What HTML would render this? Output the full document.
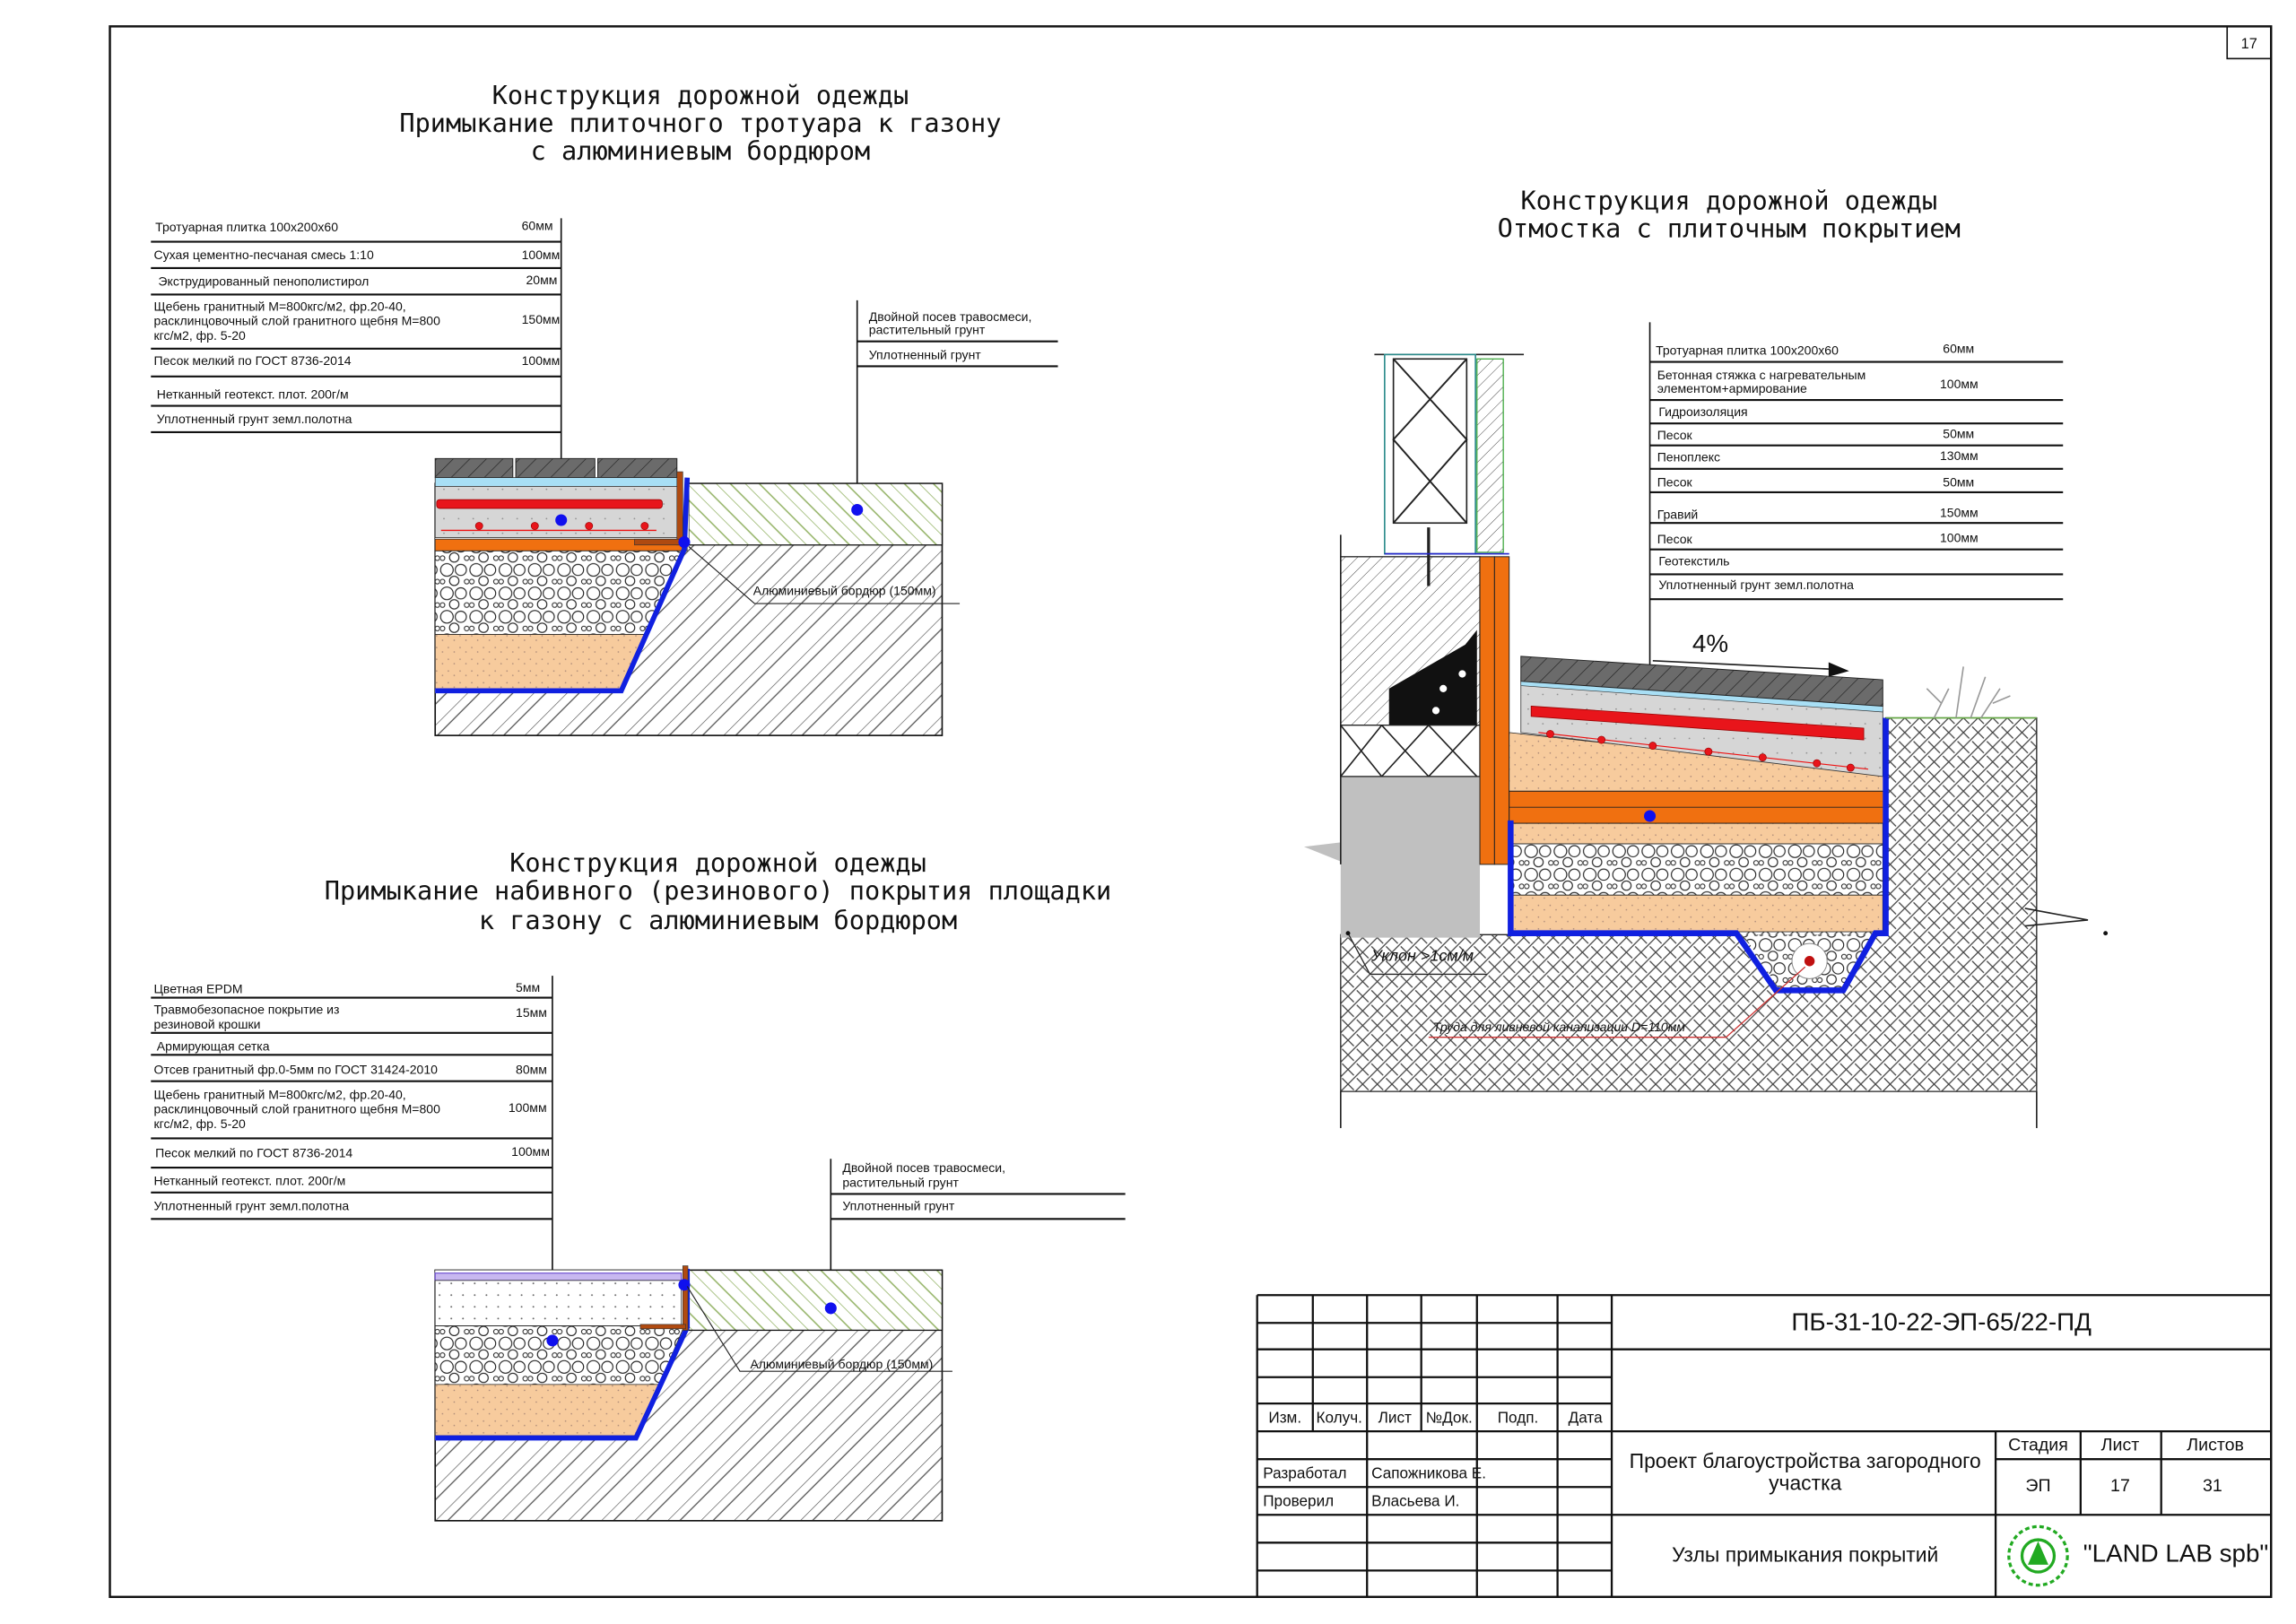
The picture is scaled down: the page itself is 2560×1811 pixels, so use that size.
<!DOCTYPE html>
<html><head><meta charset="utf-8"><style>
html,body{margin:0;padding:0;background:#fff}
svg{display:block}
text{font-family:"Liberation Sans Narrow","Liberation Sans","DejaVu Sans",sans-serif;fill:#111}
.t{font-size:17.5px;font-family:"DejaVu Sans Mono","Liberation Mono",monospace}
.s{font-size:8.6px}
.m{font-size:11px}
</style></head><body>
<svg width="2560" height="1811" viewBox="0 0 1567 1108.5" preserveAspectRatio="none" xmlns="http://www.w3.org/2000/svg">
<defs>
<pattern id="soil" width="16" height="16" patternUnits="userSpaceOnUse" patternTransform="rotate(45)">
<line x1="0" y1="0" x2="0" y2="16" stroke="#555" stroke-width="0.8"/><line x1="6" y1="0" x2="6" y2="16" stroke="#555" stroke-width="0.8"/></pattern>
<pattern id="grass" width="14" height="14" patternUnits="userSpaceOnUse" patternTransform="rotate(-45)">
<line x1="0" y1="0" x2="0" y2="14" stroke="#8fb060" stroke-width="0.9"/><line x1="7" y1="0" x2="7" y2="14" stroke="#8fb060" stroke-width="0.9"/></pattern>
<pattern id="cross" width="10" height="10" patternUnits="userSpaceOnUse">
<path d="M0 10L10 0M0 0L4 4M6 6L10 10" stroke="#444" stroke-width="0.8"/></pattern>
<pattern id="gravel" width="20" height="16" patternUnits="userSpaceOnUse">
<rect width="20" height="16" fill="#fff"/><circle cx="5" cy="5" r="4.3" fill="none" stroke="#222" stroke-width="0.7"/><circle cx="14.5" cy="5" r="3.8" fill="none" stroke="#222" stroke-width="0.7"/><circle cx="10" cy="12.5" r="3.2" fill="none" stroke="#222" stroke-width="0.7"/><circle cx="18.5" cy="13" r="1.6" fill="none" stroke="#222" stroke-width="0.6"/><circle cx="2" cy="13" r="1.6" fill="none" stroke="#222" stroke-width="0.6"/></pattern>
<pattern id="sand" width="8" height="8" patternUnits="userSpaceOnUse">
<rect width="8" height="8" fill="#f7cb9d"/><circle cx="2" cy="2" r="0.5" fill="#a87"/><circle cx="6" cy="5" r="0.5" fill="#a87"/></pattern>
<pattern id="conc" width="10" height="10" patternUnits="userSpaceOnUse">
<rect width="10" height="10" fill="#d6d6d6"/><circle cx="3" cy="4" r="0.5" fill="#888"/></pattern>
<pattern id="tile" width="8" height="8" patternUnits="userSpaceOnUse" patternTransform="rotate(45)">
<rect width="8" height="8" fill="#6b6b6b"/><line x1="0" y1="0" x2="0" y2="8" stroke="#222" stroke-width="0.8"/></pattern>
<pattern id="dots" width="8" height="8" patternUnits="userSpaceOnUse">
<rect width="8" height="8" fill="#fff"/><circle cx="4" cy="4" r="0.6" fill="#666"/></pattern>
<pattern id="hatchf" width="6" height="6" patternUnits="userSpaceOnUse" patternTransform="rotate(45)">
<rect width="6" height="6" fill="#fff"/><line x1="0" y1="0" x2="0" y2="6" stroke="#444" stroke-width="0.6"/></pattern>
</defs>
<rect x="0" y="0" width="1567" height="1109" fill="#fff"/>
<rect x="75" y="18" width="1475" height="1072" fill="none" stroke="#111" stroke-width="1.5"/>
<rect x="1520" y="18" width="30" height="22" fill="none" stroke="#111" stroke-width="1"/>
<text x="1535" y="33" text-anchor="middle" font-size="10">17</text>

<!-- TOP LEFT -->
<text x="478" y="71" class="t" text-anchor="middle">Конструкция дорожной одежды</text>
<text x="478" y="90" class="t" text-anchor="middle">Примыкание плиточного тротуара к газону</text>
<text x="478" y="109" class="t" text-anchor="middle">с алюминиевым бордюром</text>
<g stroke="#111" stroke-width="1.3">
<line x1="103" y1="165" x2="383" y2="165"/><line x1="103" y1="183" x2="383" y2="183"/><line x1="103" y1="201" x2="383" y2="201"/><line x1="103" y1="238" x2="383" y2="238"/><line x1="103" y1="257" x2="383" y2="257"/><line x1="103" y1="277" x2="383" y2="277"/><line x1="103" y1="295" x2="383" y2="295"/>
<line x1="383" y1="149" x2="383" y2="355" stroke-width="1"/>
<line x1="585" y1="205" x2="585" y2="348" stroke-width="1"/>
<line x1="585" y1="233" x2="722" y2="233"/><line x1="585" y1="250" x2="722" y2="250"/>
</g>
<g class="s">
<text x="106" y="158">Тротуарная плитка 100х200х60</text><text x="356" y="157">60мм</text>
<text x="105" y="177">Сухая цементно-песчаная смесь 1:10</text><text x="356" y="177">100мм</text>
<text x="108" y="195">Экструдированный пенополистирол</text><text x="359" y="194">20мм</text>
<text x="105" y="212">Щебень гранитный М=800кгс/м2, фр.20-40,</text>
<text x="105" y="222">расклинцовочный слой гранитного щебня М=800</text><text x="356" y="221">150мм</text>
<text x="105" y="232">кгс/м2, фр. 5-20</text>
<text x="105" y="249">Песок мелкий по ГОСТ 8736-2014</text><text x="356" y="249">100мм</text>
<text x="107" y="272">Нетканный геотекст. плот. 200г/м</text>
<text x="107" y="289">Уплотненный грунт земл.полотна</text>
<text x="593" y="219">Двойной посев травосмеси,</text>
<text x="593" y="228">растительный грунт</text>
<text x="593" y="245">Уплотненный грунт</text>
</g>
<rect x="297" y="330" width="346" height="172" fill="url(#soil)" stroke="#111" stroke-width="1"/>
<rect x="470" y="330" width="173" height="42" fill="#fff"/>
<rect x="470" y="330" width="173" height="42" fill="url(#grass)" stroke="#111" stroke-width="0.8"/>
<polygon points="297,313 470,313 470,372 425,473 297,473" fill="#fff"/>
<rect x="297" y="313" width="53" height="13" fill="url(#tile)" stroke="#222" stroke-width="0.6"/>
<rect x="352" y="313" width="54" height="13" fill="url(#tile)" stroke="#222" stroke-width="0.6"/>
<rect x="408" y="313" width="54" height="13" fill="url(#tile)" stroke="#222" stroke-width="0.6"/>
<rect x="297" y="326" width="168" height="6" fill="#a8dff5" stroke="#333" stroke-width="0.5"/>
<rect x="297" y="332" width="168" height="35" fill="url(#conc)" stroke="#333" stroke-width="0.5"/>
<rect x="298" y="341" width="154" height="6" rx="2" fill="#e8151b" stroke="#900" stroke-width="0.5"/>
<line x1="301" y1="362" x2="448" y2="362" stroke="#e11" stroke-width="0.8"/>
<g fill="#e8151b" stroke="#900" stroke-width="0.4"><circle cx="327" cy="359" r="2.5"/><circle cx="365" cy="359" r="2.5"/><circle cx="402" cy="359" r="2.5"/><circle cx="440" cy="359" r="2.5"/></g>
<rect x="297" y="368" width="172" height="8" fill="#f07010" stroke="#333" stroke-width="0.5"/>
<polygon points="297,376 467,376 442,433 297,433" fill="url(#gravel)" stroke="#222" stroke-width="0.5"/>
<polygon points="297,433 442,433 425,470 297,470" fill="url(#sand)" stroke="#222" stroke-width="0.5"/>
<polyline points="297,471.5 424,471.5 467,375 469,326" fill="none" stroke="#1020e0" stroke-width="3.5"/>
<rect x="462" y="322" width="4" height="50" fill="#b04a10" stroke="#333" stroke-width="0.4"/>
<rect x="433" y="368" width="33" height="4" fill="#b04a10" stroke="#333" stroke-width="0.4"/>
<circle cx="383" cy="355" r="4" fill="#1010ee"/><circle cx="467" cy="370" r="4" fill="#1010ee"/><circle cx="585" cy="348" r="4" fill="#1010ee"/>
<polyline points="470,373 515,412 655,412" fill="none" stroke="#222" stroke-width="0.7"/>
<text x="514" y="406" class="s">Алюминиевый бордюр (150мм)</text>

<!-- BOTTOM LEFT -->
<text x="490" y="595" class="t" text-anchor="middle">Конструкция дорожной одежды</text>
<text x="490" y="614" class="t" text-anchor="middle">Примыкание набивного (резинового) покрытия площадки</text>
<text x="490" y="634" class="t" text-anchor="middle">к газону с алюминиевым бордюром</text>
<g stroke="#111" stroke-width="1.3">
<line x1="103" y1="681" x2="377" y2="681"/><line x1="103" y1="705" x2="377" y2="705"/><line x1="103" y1="720" x2="377" y2="720"/><line x1="103" y1="738" x2="377" y2="738"/><line x1="103" y1="777" x2="377" y2="777"/><line x1="103" y1="797" x2="377" y2="797"/><line x1="103" y1="814" x2="377" y2="814"/><line x1="103" y1="832" x2="377" y2="832"/>
<line x1="377" y1="666" x2="377" y2="915" stroke-width="1"/>
<line x1="567" y1="791" x2="567" y2="893" stroke-width="1"/>
<line x1="567" y1="815" x2="768" y2="815"/><line x1="567" y1="832" x2="768" y2="832"/>
</g>
<g class="s">
<text x="105" y="678">Цветная EPDM</text><text x="352" y="677">5мм</text>
<text x="105" y="692">Травмобезопасное покрытие из</text><text x="352" y="694">15мм</text>
<text x="105" y="702">резиновой крошки</text>
<text x="107" y="717">Армирующая сетка</text>
<text x="105" y="733">Отсев гранитный фр.0-5мм по ГОСТ 31424-2010</text><text x="352" y="733">80мм</text>
<text x="105" y="750">Щебень гранитный М=800кгс/м2, фр.20-40,</text>
<text x="105" y="760">расклинцовочный слой гранитного щебня М=800</text><text x="347" y="759">100мм</text>
<text x="105" y="770">кгс/м2, фр. 5-20</text>
<text x="106" y="790">Песок мелкий по ГОСТ 8736-2014</text><text x="349" y="789">100мм</text>
<text x="105" y="809">Нетканный геотекст. плот. 200г/м</text>
<text x="105" y="826">Уплотненный грунт земл.полотна</text>
<text x="575" y="800">Двойной посев травосмеси,</text>
<text x="575" y="810">растительный грунт</text>
<text x="575" y="826">Уплотненный грунт</text>
</g>
<rect x="297" y="867" width="346" height="171" fill="url(#soil)" stroke="#111" stroke-width="1"/>
<rect x="470" y="867" width="173" height="41" fill="#fff"/>
<rect x="470" y="867" width="173" height="41" fill="url(#grass)" stroke="#111" stroke-width="0.8"/>
<polygon points="297,867 470,867 470,906 434,983 297,983" fill="#fff"/>
<rect x="297" y="869" width="168" height="5" fill="#c8b8f0" stroke="#6a4bd0" stroke-width="0.7"/>
<rect x="297" y="874" width="168" height="31" fill="url(#dots)" stroke="#333" stroke-width="0.5"/>
<polygon points="297,905 467,905 450,945 297,945" fill="url(#gravel)" stroke="#222" stroke-width="0.5"/>
<polygon points="297,945 450,945 434,980 297,980" fill="url(#sand)" stroke="#222" stroke-width="0.5"/>
<polyline points="297,981.5 434,981.5 469,906 469,866" fill="none" stroke="#1020e0" stroke-width="3.5"/>
<rect x="466" y="864" width="3.5" height="44" fill="#b04a10" stroke="#333" stroke-width="0.4"/>
<rect x="437" y="904" width="31" height="3" fill="#b04a10" stroke="#333" stroke-width="0.4"/>
<circle cx="377" cy="915" r="4" fill="#1010ee"/><circle cx="467" cy="877" r="4" fill="#1010ee"/><circle cx="567" cy="893" r="4" fill="#1010ee"/>
<polyline points="469,878 505,936 650,936" fill="none" stroke="#222" stroke-width="0.7"/>
<text x="512" y="934" class="s">Алюминиевый бордюр (150мм)</text>

<!-- RIGHT -->
<text x="1180" y="143" class="t" text-anchor="middle">Конструкция дорожной одежды</text>
<text x="1180" y="162" class="t" text-anchor="middle">Отмостка с плиточным покрытием</text>
<g stroke="#111" stroke-width="1.3">
<line x1="1126" y1="247" x2="1408" y2="247"/><line x1="1126" y1="273" x2="1408" y2="273"/><line x1="1126" y1="289" x2="1408" y2="289"/><line x1="1126" y1="304" x2="1408" y2="304"/><line x1="1126" y1="320" x2="1408" y2="320"/><line x1="1126" y1="336" x2="1408" y2="336"/><line x1="1126" y1="357" x2="1408" y2="357"/><line x1="1126" y1="375" x2="1408" y2="375"/><line x1="1126" y1="392" x2="1408" y2="392"/><line x1="1126" y1="409" x2="1408" y2="409"/>
<line x1="1126" y1="220" x2="1126" y2="557" stroke-width="1"/>
</g>
<g class="s">
<text x="1130" y="242">Тротуарная плитка 100х200х60</text><text x="1326" y="241">60мм</text>
<text x="1131" y="259">Бетонная стяжка с нагревательным</text><text x="1324" y="265">100мм</text>
<text x="1131" y="268">элементом+армирование</text>
<text x="1132" y="284">Гидроизоляция</text>
<text x="1131" y="300">Песок</text><text x="1326" y="299">50мм</text>
<text x="1131" y="315">Пеноплекс</text><text x="1324" y="314">130мм</text>
<text x="1131" y="332">Песок</text><text x="1326" y="332">50мм</text>
<text x="1131" y="354">Гравий</text><text x="1324" y="353">150мм</text>
<text x="1131" y="371">Песок</text><text x="1324" y="370">100мм</text>
<text x="1132" y="386">Геотекстиль</text>
<text x="1132" y="402">Уплотненный грунт земл.полотна</text>
</g>
<polygon points="915,638 1030,638 1030,560 1287,560 1287,490 1390,490 1390,745 915,745" fill="url(#cross)" stroke="#222" stroke-width="0.8"/>
<line x1="915" y1="745" x2="915" y2="770" stroke="#222"/><line x1="1390" y1="745" x2="1390" y2="770" stroke="#222"/>
<polyline points="1382,620 1425,628 1382,632" fill="none" stroke="#222"/>
<circle cx="1437" cy="637" r="1.5" fill="#111"/>
<polygon points="915,530 1010,530 1010,640 915,640 915,588 890,578 915,575" fill="#c0c0c0"/>
<rect x="915" y="380" width="95" height="115" fill="url(#hatchf)" stroke="#222" stroke-width="0.8"/>
<polygon points="948,470 1000,440 1008,430 1008,495 948,495" fill="#111"/>
<circle cx="985" cy="470" r="2.5" fill="#fff"/><circle cx="998" cy="460" r="2.5" fill="#fff"/><circle cx="980" cy="485" r="2.5" fill="#fff"/>
<rect x="915" y="495" width="95" height="35" fill="#fff" stroke="#222" stroke-width="0.8"/>
<path d="M915 495L943 530M943 495L915 530M943 495L975 530M975 495L943 530M975 495L1008 530M1008 495L975 530" stroke="#222" stroke-width="1"/>
<line x1="915" y1="365" x2="915" y2="590" stroke="#222" stroke-width="1"/>
<line x1="938" y1="242" x2="1040" y2="242" stroke="#222"/>
<rect x="945" y="242" width="62" height="136" fill="#fff" stroke="#2a8a8a" stroke-width="1"/>
<rect x="951" y="245" width="50" height="112" fill="#fff" stroke="#222" stroke-width="1"/>
<path d="M951 245L1001 300L951 357M1001 245L951 300L1001 357" stroke="#222" stroke-width="1.2" fill="none"/>
<rect x="1008" y="245" width="18" height="132" fill="url(#hatchf)" stroke="#4a4" stroke-width="0.8"/>
<line x1="975" y1="360" x2="975" y2="400" stroke="#222" stroke-width="2"/>
<line x1="945" y1="378" x2="1030" y2="378" stroke="#22c" stroke-width="1"/>
<rect x="1010" y="380" width="10" height="210" fill="#f07010" stroke="#222" stroke-width="0.6"/>
<rect x="1020" y="380" width="10" height="210" fill="#f07010" stroke="#222" stroke-width="0.6"/>
<polygon points="1030,540 1287,540 1287,562 1030,562" fill="#f07010" stroke="#222" stroke-width="0.6"/>
<line x1="1030" y1="551" x2="1287" y2="551" stroke="#222" stroke-width="0.6"/>
<polygon points="1030,500 1287,528 1287,540 1030,540" fill="url(#sand)" stroke="#222" stroke-width="0.5"/>
<polygon points="1038,465 1285,485 1285,530 1038,500" fill="url(#conc)" stroke="#333" stroke-width="0.5"/>
<polygon points="1045,482 1272,497 1272,505 1045,489" fill="#e8151b" stroke="#900" stroke-width="0.5"/>
<polyline points="1050,500 1275,525" stroke="#e11" stroke-width="0.7" fill="none"/>
<g fill="#e8151b" stroke="#900" stroke-width="0.4"><circle cx="1058" cy="501" r="2.5"/><circle cx="1093" cy="505" r="2.5"/><circle cx="1128" cy="509" r="2.5"/><circle cx="1166" cy="513" r="2.5"/><circle cx="1203" cy="517" r="2.5"/><circle cx="1240" cy="521" r="2.5"/><circle cx="1263" cy="524" r="2.5"/></g>
<polygon points="1038,462 1285,480 1285,486 1038,468" fill="#a8dff5" stroke="#333" stroke-width="0.4"/>
<polygon points="1038,448 1285,464 1285,482 1038,465" fill="url(#tile)" stroke="#222" stroke-width="0.6"/>
<rect x="1030" y="562" width="255" height="14" fill="url(#sand)" stroke="#222" stroke-width="0.5"/>
<rect x="1030" y="576" width="255" height="35" fill="url(#gravel)" stroke="#222" stroke-width="0.5"/>
<rect x="1030" y="611" width="255" height="25" fill="url(#sand)" stroke="#222" stroke-width="0.5"/>
<polygon points="1190,638 1280,638 1258,676 1215,676" fill="url(#gravel)"/>
<circle cx="1235" cy="656" r="12" fill="#fff" stroke="#888" stroke-width="0.6"/><circle cx="1235" cy="656" r="3.5" fill="#c01010"/>
<polyline points="1031,560 1031,637 1185,637 1212,676 1258,676 1280,637 1287,637 1287,490" fill="none" stroke="#1020e0" stroke-width="4"/>
<line x1="1287" y1="490" x2="1390" y2="490" stroke="#6a4" stroke-width="1"/>
<g stroke="#999" fill="none" stroke-width="1"><path d="M1320 490L1330 470M1335 490L1340 455M1345 490L1355 462M1352 490L1365 470M1325 480L1315 470M1360 480L1372 475"/></g>
<circle cx="1126" cy="557" r="4" fill="#1010ee"/>
<text x="1155" y="445" font-size="17" font-family="Liberation Sans">4%</text>
<line x1="1128" y1="451" x2="1255" y2="457" stroke="#222" stroke-width="1"/>
<polygon points="1262,458 1248,452 1248,462" fill="#111"/>
<text x="936" y="656" class="m" font-style="italic">Уклон &gt;1см/м</text>
<polyline points="920,637 935,665 1015,665" fill="none" stroke="#222" stroke-width="0.8"/>
<circle cx="920" cy="637" r="1.5" fill="#111"/>
<text x="978" y="704" class="s" font-style="italic">Труда для ливневой канализации D=110мм</text>
<polyline points="975,708 1178,708 1232,660" fill="none" stroke="#c33" stroke-width="0.8"/>

<!-- TITLE BLOCK -->
<g stroke="#111" stroke-width="1.4" fill="none">
<line x1="858" y1="884" x2="1550" y2="884"/>
<line x1="858" y1="884" x2="858" y2="1090"/>
<line x1="1100" y1="884" x2="1100" y2="1090"/>
<line x1="858" y1="903" x2="1100" y2="903"/><line x1="858" y1="921" x2="1550" y2="921"/><line x1="858" y1="940" x2="1100" y2="940"/><line x1="858" y1="958" x2="1100" y2="958"/><line x1="858" y1="977" x2="1550" y2="977"/><line x1="858" y1="996" x2="1100" y2="996"/><line x1="1362" y1="996" x2="1550" y2="996"/><line x1="858" y1="1015" x2="1100" y2="1015"/><line x1="858" y1="1034" x2="1550" y2="1034"/><line x1="858" y1="1053" x2="1100" y2="1053"/><line x1="858" y1="1072" x2="1100" y2="1072"/>
<line x1="896" y1="884" x2="896" y2="977"/><line x1="933" y1="884" x2="933" y2="1090"/><line x1="970" y1="884" x2="970" y2="977"/><line x1="1008" y1="884" x2="1008" y2="1090"/><line x1="1063" y1="884" x2="1063" y2="1090"/>
<line x1="1362" y1="977" x2="1362" y2="1090"/><line x1="1420" y1="977" x2="1420" y2="1034"/><line x1="1475" y1="977" x2="1475" y2="1034"/>
</g>
<g font-size="10.5">
<text x="877" y="971" text-anchor="middle">Изм.</text><text x="914" y="971" text-anchor="middle">Колуч.</text><text x="952" y="971" text-anchor="middle">Лист</text><text x="989" y="971" text-anchor="middle">№Док.</text><text x="1036" y="971" text-anchor="middle">Подп.</text><text x="1082" y="971" text-anchor="middle">Дата</text>
<text x="862" y="1009">Разработал</text><text x="936" y="1009">Сапожникова Е.</text>
<text x="862" y="1028">Проверил</text><text x="936" y="1028">Власьева И.</text>
<text x="1391" y="990" text-anchor="middle" font-size="12">Стадия</text><text x="1447" y="990" text-anchor="middle" font-size="12">Лист</text><text x="1512" y="990" text-anchor="middle" font-size="12">Листов</text>
<text x="1391" y="1018" text-anchor="middle" font-size="12">ЭП</text><text x="1447" y="1018" text-anchor="middle" font-size="12">17</text><text x="1510" y="1018" text-anchor="middle" font-size="12">31</text>
</g>
<text x="1325" y="908" text-anchor="middle" font-size="17">ПБ-31-10-22-ЭП-65/22-ПД</text>
<text x="1232" y="1002" text-anchor="middle" font-size="14">Проект благоустройства загородного</text>
<text x="1232" y="1017" text-anchor="middle" font-size="14">участка</text>
<text x="1232" y="1066" text-anchor="middle" font-size="14">Узлы примыкания покрытий</text>
<circle cx="1391" cy="1062" r="20" fill="none" stroke="#2a2" stroke-width="2" stroke-dasharray="3 2"/>
<circle cx="1391" cy="1062" r="11" fill="none" stroke="#2a2" stroke-width="2"/>
<polygon points="1391,1052 1384,1068 1398,1068" fill="#2a2"/>
<text x="1485" y="1066" text-anchor="middle" font-size="17">"LAND LAB spb"</text>
</svg>
</body></html>
